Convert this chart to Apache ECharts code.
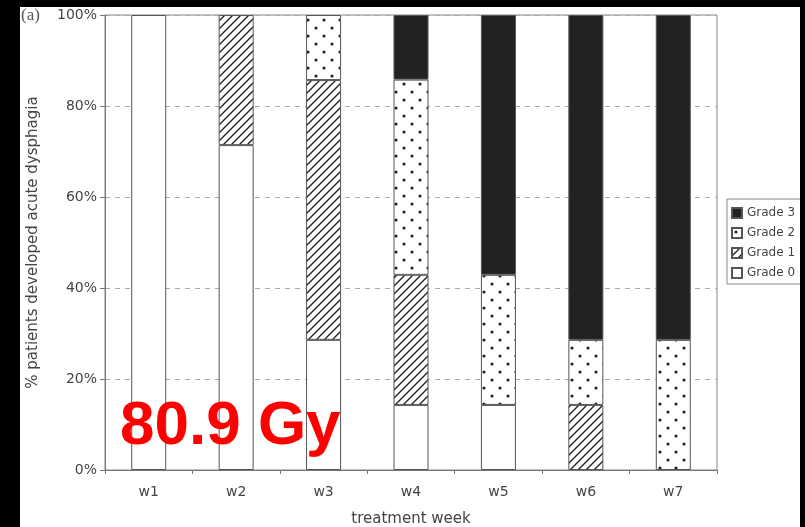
<!DOCTYPE html>
<html><head><meta charset="utf-8">
<script src="https://cdn.jsdelivr.net/npm/echarts@6/dist/echarts.min.js"></script>
<style>html,body{margin:0;padding:0;background:#000}#chart{width:805px;height:527px}</style>
</head><body><div id="chart"></div>
<script>
// Share of patients per dysphagia grade, by treatment week (%)
const weeks = ['w1', 'w2', 'w3', 'w4', 'w5', 'w6', 'w7'];
const grade0 = [100, 71.4, 28.6, 14.3, 14.3, null, null];
const grade1 = [null, 28.6, 57.1, 28.6, null, 14.3, null];
const grade2 = [null, null, 14.3, 42.9, 28.6, 14.3, 28.6];
const grade3 = [null, null, null, 14.2, 57.1, 71.4, 71.4];
const yTicks = [0, 20, 40, 60, 80, 100];
const gradeNames = ['Grade 0', 'Grade 1', 'Grade 2', 'Grade 3'];

const FONT = 'DejaVu Sans';
const INK = '#444';

// Fill patterns: diagonal hatch and staggered dots
function hatchPattern() {
  const c = document.createElement('canvas');
  c.width = 8; c.height = 8;
  const g = c.getContext('2d');
  g.fillStyle = '#fff'; g.fillRect(0, 0, 8, 8);
  g.strokeStyle = '#222'; g.lineWidth = 1.4;
  g.beginPath();
  g.moveTo(-1, 9); g.lineTo(9, -1);
  g.moveTo(-1, 1); g.lineTo(1, -1);
  g.moveTo(7, 9); g.lineTo(9, 7);
  g.stroke();
  return c;
}
function dotPattern() {
  const c = document.createElement('canvas');
  c.width = 16; c.height = 16;
  const g = c.getContext('2d');
  g.fillStyle = '#fff'; g.fillRect(0, 0, 16, 16);
  g.fillStyle = '#222';
  [[4, 4], [12, 12]].forEach(([x, y]) => { g.beginPath(); g.arc(x, y, 1.6, 0, Math.PI * 2); g.fill(); });
  return c;
}

const fills = [
  '#ffffff',
  { image: hatchPattern(), repeat: 'repeat' },
  { image: dotPattern(), repeat: 'repeat' },
  '#222222'
];
const seriesData = [grade0, grade1, grade2, grade3];

const chart = echarts.init(document.getElementById('chart'), null, { renderer: 'canvas' });
chart.setOption({
  backgroundColor: '#000',
  animation: false,
  graphic: [
    { type: 'rect', z: -10, silent: true, shape: { x: 20, y: 7, width: 780, height: 520 }, style: { fill: '#fff' } },
    { type: 'rect', z: 100, silent: true, shape: { x: 800, y: 0, width: 5, height: 527 }, style: { fill: '#000' } },
    { type: 'text', z: 50, left: 21, top: 7, style: { text: '(a)', font: '17px "Liberation Serif"', fill: '#555' } },
    { type: 'text', z: 50, x: 120, y: 427, style: { text: '80.9 Gy', font: 'bold 62px "Liberation Sans"', fill: '#ff0000', verticalAlign: 'middle' } }
  ],
  grid: {
    left: 105, right: 88, top: 15, bottom: 57,
    outerBoundsMode: 'none', containLabel: false,
    show: true, borderColor: '#888', borderWidth: 1, backgroundColor: 'transparent'
  },
  legend: {
    orient: 'vertical', left: 727, top: 199,
    data: ['Grade 3', 'Grade 2', 'Grade 1', 'Grade 0'],
    itemWidth: 10, itemHeight: 10, itemGap: 8,
    padding: [8, 20, 5, 4],
    borderColor: '#888', borderWidth: 1, backgroundColor: '#fff',
    textStyle: { fontFamily: FONT, fontSize: 12, color: INK },
    icon: 'rect'
  },
  xAxis: {
    type: 'category', data: weeks,
    name: 'treatment week', nameLocation: 'middle', nameGap: 42,
    nameTextStyle: { fontFamily: FONT, fontSize: 15, color: INK },
    axisLine: { lineStyle: { color: '#777' } },
    axisTick: { show: true, length: 4, lineStyle: { color: '#777' } },
    axisLabel: { fontFamily: FONT, fontSize: 14, color: INK, margin: 15 }
  },
  yAxis: {
    type: 'value', min: yTicks[0], max: yTicks[yTicks.length - 1], interval: yTicks[1] - yTicks[0],
    name: '% patients developed acute dysphagia', nameLocation: 'middle', nameGap: 64,
    nameTextStyle: { fontFamily: FONT, fontSize: 15, color: INK },
    axisLine: { show: true, lineStyle: { color: '#777' } },
    axisTick: { show: true, length: 5, lineStyle: { color: '#777' } },
    axisLabel: { fontFamily: FONT, fontSize: 14, color: INK, margin: 8, formatter: '{value}%' },
    splitLine: { lineStyle: { color: '#aaa', type: [5, 5] } }
  },
  series: gradeNames.map((name, i) => ({
    name, type: 'bar', stack: 'grade', barWidth: 35,
    data: seriesData[i],
    itemStyle: { color: fills[i], borderColor: '#555', borderWidth: 1 }
  }))
});
</script></body></html>
